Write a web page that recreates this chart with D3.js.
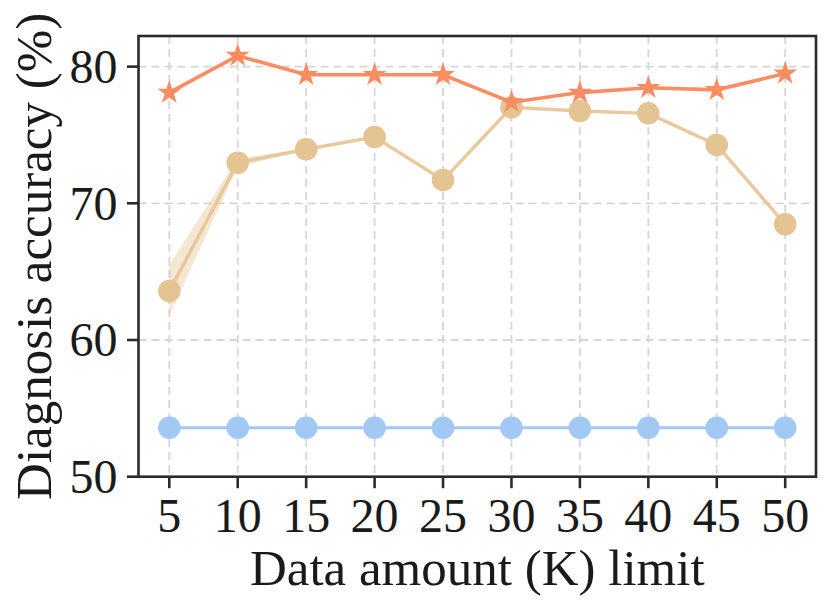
<!DOCTYPE html>
<html>
<head>
<meta charset="utf-8">
<script src="https://cdn.jsdelivr.net/npm/d3@7"></script>
<style>
  body { margin: 0; background: #fff; }
  text { font-family: "Liberation Serif", "Times New Roman", serif; fill: #1a1a1a; }
</style>
</head>
<body>
<div id="chart"></div>
<script>
// data
const dataAmount = [5, 10, 15, 20, 25, 30, 35, 40, 45, 50];
const ourAcc = [78.1, 80.8, 79.4, 79.4, 79.4, 77.4, 78.1, 78.45, 78.3, 79.5];
const tunedAcc = [63.58, 72.97, 73.95, 74.85, 71.7, 77.02, 76.75, 76.58, 74.27, 68.46];
const tunedLow = [61.8, 72.65, 73.9, 74.85, 71.7, 77.02, 76.75, 76.58, 74.27, 68.46];
const tunedHigh = [65.5, 73.3, 74.0, 74.85, 71.7, 77.02, 76.75, 76.58, 74.27, 68.46];
const baseAcc = [53.58, 53.58, 53.58, 53.58, 53.58, 53.58, 53.58, 53.58, 53.58, 53.58];
const yTicks = [50, 60, 70, 80];

const width = 831;
const height = 611;
const plot = { left: 138.5, top: 36, right: 816, bottom: 476.7 };

const svg = d3.select('#chart').append('svg')
    .attr('width', width)
    .attr('height', height);

const x = d3.scaleLinear().domain([2.75, 52.25]).range([plot.left, plot.right]);
const y = d3.scaleLinear().domain([50, 82.24]).range([plot.bottom, plot.top]);

// dashed grid
const grid = svg.append('g')
    .attr('stroke', '#d6d6d6')
    .attr('stroke-width', 1.8)
    .attr('stroke-dasharray', '8,5');
grid.selectAll('line.v').data(dataAmount).enter().append('line')
    .attr('x1', d => x(d)).attr('x2', d => x(d))
    .attr('y1', plot.top).attr('y2', plot.bottom);
grid.selectAll('line.h').data(yTicks.slice(1)).enter().append('line')
    .attr('x1', plot.left).attr('x2', plot.right)
    .attr('y1', d => y(d)).attr('y2', d => y(d));

const idx = d3.range(dataAmount.length);

// baseline (blue)
svg.append('path')
    .attr('d', d3.line().x(i => x(dataAmount[i])).y(i => y(baseAcc[i]))(idx))
    .attr('fill', 'none').attr('stroke', '#a1c9f4').attr('stroke-width', 3);
svg.selectAll('circle.base').data(idx).enter().append('circle')
    .attr('cx', i => x(dataAmount[i])).attr('cy', i => y(baseAcc[i]))
    .attr('r', 11.3).attr('fill', '#a1c9f4');

// tuned (tan) with band
svg.append('path')
    .attr('d', d3.area().x(i => x(dataAmount[i])).y0(i => y(tunedLow[i])).y1(i => y(tunedHigh[i]))(idx))
    .attr('fill', '#e5c494').attr('fill-opacity', 0.4);
svg.append('path')
    .attr('d', d3.line().x(i => x(dataAmount[i])).y(i => y(tunedAcc[i]))(idx))
    .attr('fill', 'none').attr('stroke', '#e5c494').attr('stroke-opacity', 0.9).attr('stroke-width', 3.5);
svg.selectAll('circle.tuned').data(idx).enter().append('circle')
    .attr('cx', i => x(dataAmount[i])).attr('cy', i => y(tunedAcc[i]))
    .attr('r', 11.3).attr('fill', '#e5c494');

// ours (orange stars)
svg.append('path')
    .attr('d', d3.line().x(i => x(dataAmount[i])).y(i => y(ourAcc[i]))(idx))
    .attr('fill', 'none').attr('stroke', '#fc8d62').attr('stroke-width', 3.6);
const star = d3.symbol().type(d3.symbolStar).size(12.6 * 12.6 / 0.8908130915292852);
svg.selectAll('path.star').data(idx).enter().append('path')
    .attr('d', star)
    .attr('transform', i => `translate(${x(dataAmount[i])},${y(ourAcc[i])})`)
    .attr('fill', '#fc8d62');

// frame
svg.append('rect')
    .attr('x', plot.left).attr('y', plot.top)
    .attr('width', plot.right - plot.left).attr('height', plot.bottom - plot.top)
    .attr('fill', 'none').attr('stroke', '#2b2b2b').attr('stroke-width', 2.6);

// ticks
const ticks = svg.append('g').attr('stroke', '#2b2b2b').attr('stroke-width', 2.6);
ticks.selectAll('line.xt').data(dataAmount).enter().append('line')
    .attr('x1', d => x(d)).attr('x2', d => x(d))
    .attr('y1', plot.bottom).attr('y2', plot.bottom + 11.5);
ticks.selectAll('line.yt').data(yTicks).enter().append('line')
    .attr('x1', plot.left - 11.5).attr('x2', plot.left)
    .attr('y1', d => y(d)).attr('y2', d => y(d));

svg.selectAll('text.xl').data(dataAmount).enter().append('text')
    .attr('x', d => x(d)).attr('y', 531.5)
    .attr('text-anchor', 'middle').attr('font-size', 48)
    .text(d => d);
svg.selectAll('text.yl').data(yTicks).enter().append('text')
    .attr('x', 117.5).attr('y', d => y(d) + 16.2)
    .attr('text-anchor', 'end').attr('font-size', 48)
    .text(d => d);

// axis titles
svg.append('text')
    .attr('x', (plot.left + plot.right) / 2).attr('y', 585)
    .attr('text-anchor', 'middle').attr('font-size', 51)
    .text('Data amount (K) limit');
svg.append('text')
    .attr('transform', `translate(51,${(plot.top + plot.bottom) / 2}) rotate(-90)`)
    .attr('text-anchor', 'middle').attr('font-size', 51)
    .text('Diagnosis accuracy (%)');
</script>
</body>
</html>
